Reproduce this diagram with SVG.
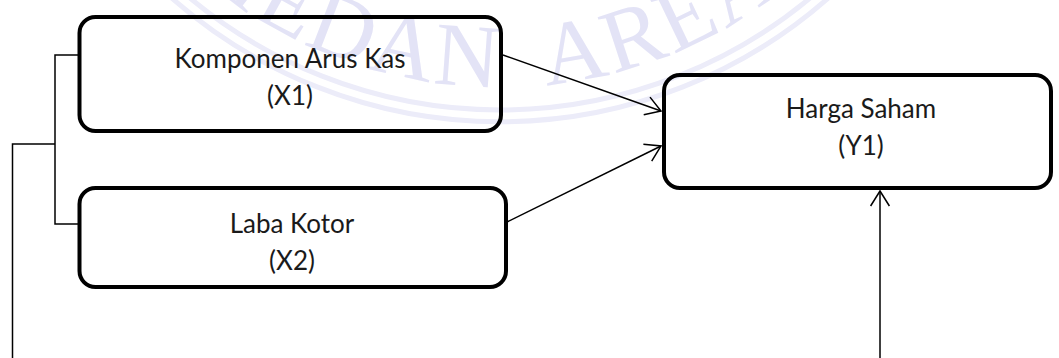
<svg xmlns="http://www.w3.org/2000/svg" width="1059" height="358" viewBox="0 0 1059 358">
  <defs>
    <style>
      .box { fill: none; stroke: #000000; stroke-width: 4; }
      .lbl { font-family: "Lato", "Open Sans", sans-serif; font-size: 26px; fill: #1a1a1a; text-anchor: middle; }
      .conn { fill: none; stroke: #000000; stroke-width: 1.5; }
      .wm { font-family: "Liberation Serif", serif; font-size: 90px; fill: #e3e3f6; }
      .band { fill: none; stroke: #ececf9; stroke-width: 5; }
    </style>
    <marker id="arrow" viewBox="-17 -11 19 22" refX="0" refY="0" markerWidth="19" markerHeight="22" markerUnits="userSpaceOnUse" orient="auto">
      <path d="M -15 -9.4 L 0 0 L -15 9.4" fill="none" stroke="#000000" stroke-width="1.5"/>
    </marker>
    <path id="wmArc" d="M 38 -375 A 462 462 0 0 0 962 -375"/>
  </defs>
  <rect width="1059" height="358" fill="#ffffff"/>
  <g id="watermark">
    <path class="band" d="M 15 -375 A 485 485 0 0 0 985 -375"/>
    <path class="band" d="M 3 -375 A 497 497 0 0 0 997 -375"/>
    <text class="wm" letter-spacing="3" xml:space="preserve"><textPath href="#wmArc" startOffset="705" text-anchor="middle">MEDAN  AREA</textPath></text>
  </g>
  <g id="connectors">
    <polyline class="conn" points="78,55 55,55 55,224 78,224"/>
    <polyline class="conn" points="55,144 12.5,144 12.5,358"/>
    <line class="conn" x1="503" y1="55" x2="661" y2="111" marker-end="url(#arrow)"/>
    <line class="conn" x1="507" y1="222" x2="661" y2="146" marker-end="url(#arrow)"/>
    <line class="conn" x1="880" y1="358" x2="880" y2="191" marker-end="url(#arrow)"/>
  </g>
  <g id="node-x1">
    <rect class="box" x="79.5" y="17" width="421.5" height="114" rx="16"/>
    <text class="lbl" x="290" y="68">Komponen Arus Kas</text>
    <text class="lbl" x="290" y="105">(X1)</text>
  </g>
  <g id="node-x2">
    <rect class="box" x="79.5" y="188" width="426.5" height="99" rx="16"/>
    <text class="lbl" x="292" y="233">Laba Kotor</text>
    <text class="lbl" x="292" y="270">(X2)</text>
  </g>
  <g id="node-y1">
    <rect class="box" x="664" y="75" width="387" height="113" rx="16"/>
    <text class="lbl" x="861" y="118">Harga Saham</text>
    <text class="lbl" x="861" y="155">(Y1)</text>
  </g>
</svg>
